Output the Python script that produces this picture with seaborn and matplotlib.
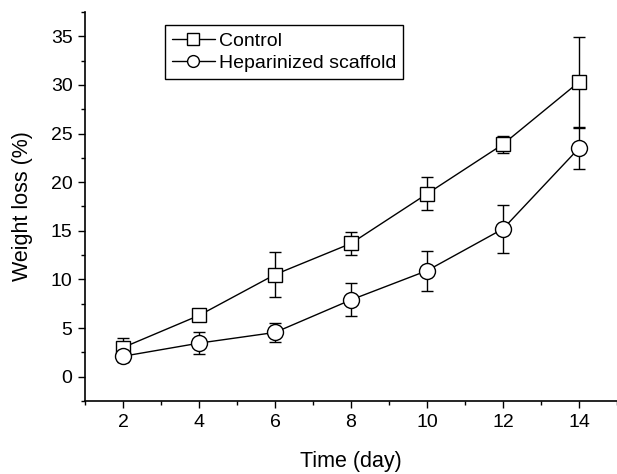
import matplotlib
matplotlib.use("Agg")
import matplotlib.pyplot as plt
import seaborn as sns
import pandas as pd
import numpy as np
from matplotlib.ticker import MultipleLocator

days = [2, 4, 6, 8, 10, 12, 14]
control_mean = [3.0, 6.3, 10.5, 13.7, 18.8, 23.9, 30.3]
control_err = [1.0, 0.3, 2.3, 1.2, 1.7, 0.85, 4.6]
hep_mean = [2.1, 3.45, 4.55, 7.9, 10.9, 15.2, 23.5]
hep_err = [0.6, 1.1, 1.0, 1.7, 2.05, 2.5, 2.1]
series = ["Control", "Heparinized scaffold"]

sns.set_theme(style="ticks")
plt.rcParams['font.family'] = ['Liberation Sans', 'DejaVu Sans']
for k in ['text.color', 'axes.labelcolor', 'xtick.color', 'ytick.color', 'axes.edgecolor']:
    plt.rcParams[k] = 'black'

df = pd.DataFrame({
    "day": days * 2,
    "loss": control_mean + hep_mean,
    "group": [series[0]] * len(days) + [series[1]] * len(days),
})

fig = plt.figure(figsize=(6.17, 4.74), dpi=100)
ax = fig.add_axes([0.1378, 0.154, 0.8622, 0.8207])

ax.errorbar(days, control_mean, yerr=control_err, fmt='none', ecolor='black',
            elinewidth=1.0, capsize=4.3, capthick=1.0, zorder=2)
ax.errorbar(days, hep_mean, yerr=hep_err, fmt='none', ecolor='black',
            elinewidth=1.0, capsize=4.3, capthick=1.0, zorder=2)

sns.lineplot(data=df, x="day", y="loss", hue="group", style="group",
             palette={series[0]: "black", series[1]: "black"},
             markers={series[0]: "s", series[1]: "o"},
             dashes=False, markersize=10.5, markerfacecolor="white",
             markeredgecolor="black", markeredgewidth=1.0, linewidth=1.0,
             ax=ax, zorder=3)
for ln in ax.lines:
    ln.set_markerfacecolor("white")
    ln.set_markeredgecolor("black")
    if ln.get_marker() == 'o':
        ln.set_markersize(11.5)

ax.set_xlim(1, 15)
ax.set_ylim(-2.5, 37.5)
ax.xaxis.set_major_locator(MultipleLocator(2))
ax.xaxis.set_minor_locator(MultipleLocator(1))
ax.yaxis.set_major_locator(MultipleLocator(5))
ax.yaxis.set_minor_locator(MultipleLocator(2.5))
ax.set_xticks(days)
ax.tick_params(axis='both', which='major', length=5, width=1, labelsize=14, direction='out', color='black', pad=4)
ax.tick_params(axis='both', which='minor', length=3, width=1, direction='out', color='black')
for s in ['top', 'right']:
    ax.spines[s].set_visible(False)
for s in ['left', 'bottom']:
    ax.spines[s].set_linewidth(1.2)
    ax.spines[s].set_color('black')

ax.set_xlabel("Time (day)", fontsize=15.5, labelpad=15)
ax.set_ylabel("Weight loss (%)", fontsize=15.5, labelpad=13)

handles, labels = ax.get_legend_handles_labels()
for h in handles:
    h.set_markerfacecolor("white")
    h.set_markeredgecolor("black")
    h.set_markersize(8.5)
leg = ax.legend(handles, labels, loc="upper left", bbox_to_anchor=(0.15, 0.966),
                fontsize=14, frameon=True, fancybox=False, edgecolor="black",
                framealpha=1, handlelength=2.25, handletextpad=0.2,
                borderpad=0.35, labelspacing=0.25, borderaxespad=0)
leg.get_frame().set_linewidth(1.0)

fig.savefig("out.png", dpi=100)
